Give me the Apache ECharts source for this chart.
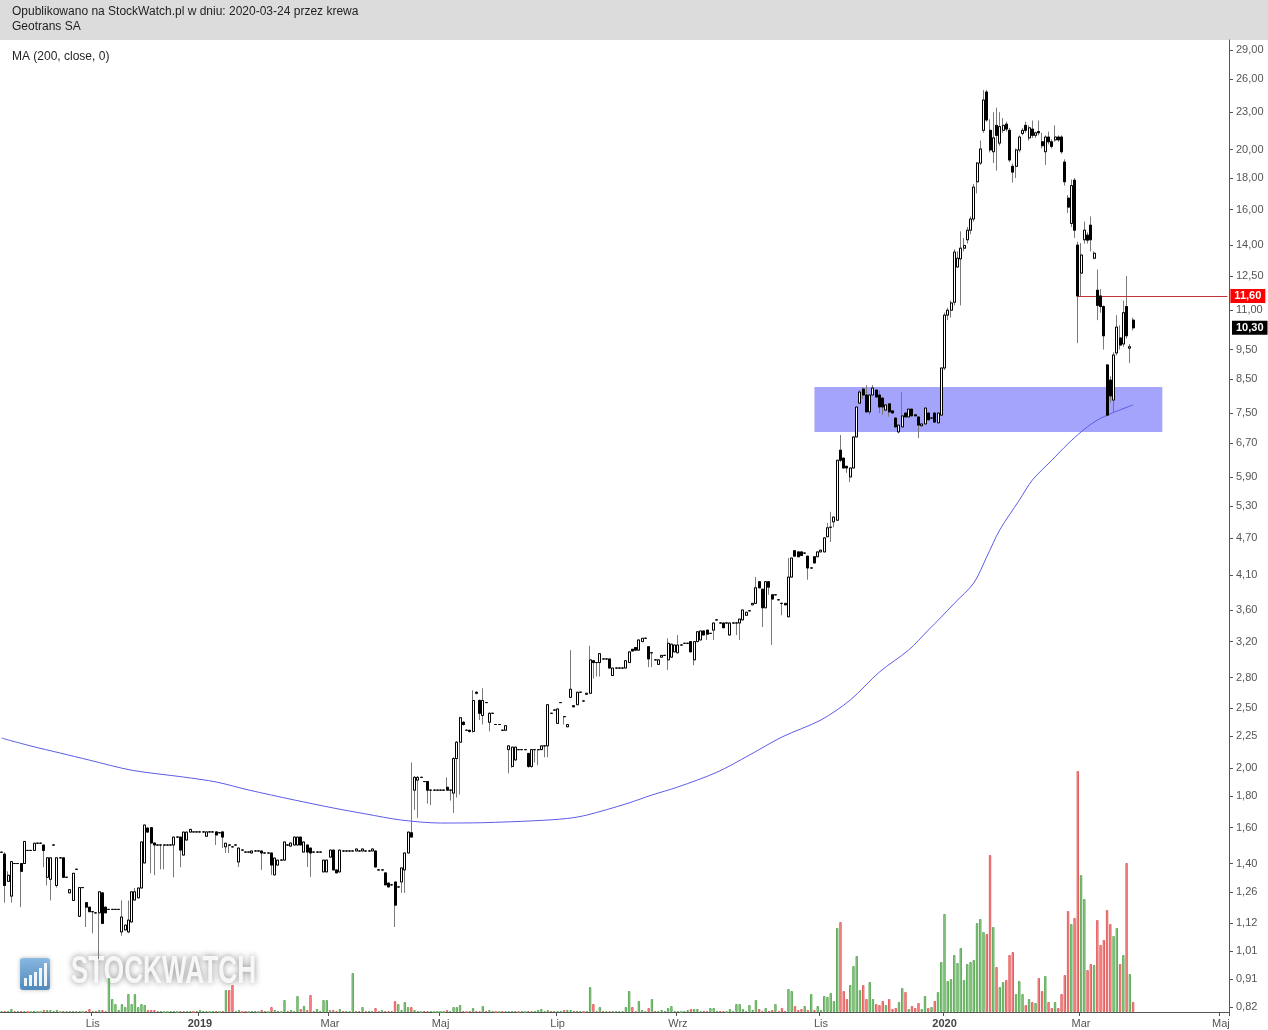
<!DOCTYPE html>
<html><head><meta charset="utf-8">
<script src="https://cdn.jsdelivr.net/npm/echarts@6/dist/echarts.min.js"></script>
<style>html,body{margin:0;padding:0;background:#fff}#c{width:1268px;height:1030px}</style>
</head><body><div id="c"></div>
<script>
// sessions per month (trading sessions shown on the chart, incl. future slots)
const monthSessions = [['2018-09',5],['2018-10',23],['2018-11',17],['2018-12',16],['2019-01',21],['2019-02',19],['2019-03',17],['2019-04',17],['2019-05',18],['2019-06',18],['2019-07',19],['2019-08',18],['2019-09',21],['2019-10',23],['2019-11',19],['2019-12',19],['2020-01',21],['2020-02',21],['2020-03',22],['2020-04',21],['2020-05',3]];
const monthNames = ['Sty','Lut','Mar','Kwi','Maj','Cze','Lip','Sie','Wrz','Paź','Lis','Gru'];
// [open, close, low, high]
const ohlc = [
[1.46,1.46,1.46,1.46],[1.45,1.29,1.21,1.46],[1.31,1.34,1.31,1.36],[1.24,1.41,1.21,1.41],[1.40,1.40,1.40,1.40],
[1.40,1.40,1.40,1.40],[1.40,1.36,1.19,1.40],[1.40,1.52,1.40,1.52],[1.47,1.47,1.47,1.47],[1.47,1.47,1.47,1.47],
[1.47,1.51,1.47,1.51],[1.51,1.51,1.51,1.51],[1.51,1.51,1.51,1.51],[1.50,1.47,1.38,1.50],[1.33,1.43,1.29,1.43],
[1.32,1.43,1.22,1.43],[1.50,1.50,1.50,1.50],[1.29,1.43,1.28,1.43],[1.43,1.43,1.43,1.43],[1.43,1.33,1.33,1.43],
[1.33,1.33,1.33,1.33],[1.255,1.27,1.255,1.27],[1.22,1.35,1.22,1.35],[1.37,1.37,1.37,1.37],[1.15,1.28,1.15,1.28],
[1.28,1.28,1.28,1.28],[1.21,1.19,1.105,1.21],[1.19,1.17,1.17,1.19],[1.17,1.17,1.08,1.17],[1.165,1.165,1.165,1.165],
[1.165,1.26,0.98,1.26],[1.255,1.12,1.12,1.255],[1.19,1.165,1.165,1.19],[1.18,1.18,1.18,1.18],[1.18,1.18,1.18,1.18],
[1.18,1.18,1.18,1.18],[1.18,1.18,1.18,1.18],[1.085,1.147,1.07,1.22],[1.093,1.113,1.093,1.113],[1.085,1.134,1.08,1.22],
[1.126,1.26,1.126,1.26],[1.222,1.26,1.222,1.278],[1.232,1.278,1.232,1.278],[1.278,1.517,1.278,1.517],[1.403,1.616,1.403,1.616],
[1.598,1.574,1.574,1.60],[1.60,1.511,1.35,1.60],[1.511,1.50,1.34,1.511],[1.50,1.50,1.50,1.50],[1.50,1.50,1.37,1.50],
[1.50,1.50,1.37,1.50],[1.50,1.50,1.50,1.50],[1.50,1.50,1.50,1.50],[1.50,1.545,1.33,1.545],[1.545,1.545,1.545,1.545],
[1.545,1.472,1.38,1.545],[1.445,1.574,1.445,1.574],[1.528,1.574,1.528,1.574],[1.574,1.59,1.574,1.59],[1.575,1.575,1.575,1.575],
[1.575,1.575,1.575,1.575],[1.575,1.575,1.575,1.575],[1.575,1.575,1.575,1.575],[1.55,1.575,1.55,1.575],[1.575,1.575,1.575,1.575],
[1.575,1.575,1.575,1.575],[1.575,1.557,1.50,1.575],[1.57,1.57,1.57,1.57],[1.575,1.545,1.483,1.575],[1.49,1.51,1.456,1.51],
[1.50,1.50,1.456,1.50],[1.49,1.49,1.49,1.49],[1.50,1.50,1.50,1.50],[1.408,1.483,1.382,1.483],[1.472,1.472,1.472,1.472],
[1.461,1.461,1.461,1.461],[1.461,1.461,1.461,1.461],[1.456,1.467,1.456,1.467],[1.467,1.467,1.467,1.467],[1.467,1.467,1.467,1.467],
[1.467,1.456,1.367,1.467],[1.456,1.456,1.456,1.456],[1.456,1.456,1.456,1.456],[1.456,1.392,1.342,1.456],[1.342,1.429,1.342,1.429],
[1.392,1.418,1.392,1.418],[1.418,1.418,1.418,1.418],[1.418,1.517,1.418,1.517],[1.50,1.50,1.50,1.50],[1.494,1.511,1.494,1.511],
[1.50,1.545,1.50,1.545],[1.50,1.545,1.50,1.545],[1.545,1.50,1.50,1.545],[1.461,1.517,1.461,1.517],[1.50,1.461,1.382,1.50],
[1.483,1.456,1.332,1.483],[1.461,1.461,1.461,1.461],[1.461,1.461,1.461,1.461],[1.461,1.461,1.461,1.461],[1.357,1.418,1.357,1.418],
[1.357,1.418,1.357,1.418],[1.434,1.472,1.434,1.472],[1.472,1.367,1.367,1.472],[1.367,1.352,1.352,1.367],[1.357,1.472,1.357,1.472],
[1.467,1.467,1.467,1.467],[1.467,1.467,1.467,1.467],[1.467,1.467,1.467,1.467],[1.467,1.467,1.467,1.467],[1.467,1.478,1.467,1.478],
[1.467,1.467,1.467,1.467],[1.467,1.478,1.467,1.478],[1.467,1.467,1.467,1.467],[1.467,1.467,1.467,1.467],[1.467,1.478,1.467,1.478],
[1.467,1.382,1.382,1.467],[1.367,1.367,1.367,1.367],[1.367,1.367,1.367,1.367],[1.352,1.293,1.293,1.352],[1.302,1.283,1.283,1.302],
[1.293,1.293,1.293,1.293],[1.307,1.199,1.105,1.307],[1.283,1.283,1.283,1.283],[1.307,1.377,1.255,1.377],[1.367,1.456,1.255,1.456],
[1.456,1.574,1.456,1.574],[1.57,1.545,1.545,2.04],
[1.84,1.93,1.71,1.94],[1.91,1.93,1.66,1.94],[1.93,1.93,1.93,1.93],[1.90,1.90,1.90,1.90],[1.90,1.84,1.75,1.90],
[1.84,1.84,1.74,1.84],[1.84,1.84,1.84,1.84],[1.84,1.84,1.84,1.84],[1.84,1.84,1.84,1.84],[1.84,1.84,1.84,1.84],
[1.86,1.84,1.84,1.93],[1.84,1.84,1.77,1.84],[1.82,2.07,1.69,2.08],[2.07,2.20,1.79,2.21],[2.20,2.41,1.81,2.42],
[2.37,2.35,2.34,2.38],[2.30,2.30,2.30,2.30],[2.30,2.29,2.28,2.30],[2.29,2.57,2.28,2.67],[2.65,2.64,2.63,2.66],
[2.57,2.45,2.39,2.58],[2.43,2.57,2.35,2.69],[2.55,2.55,2.55,2.55],[2.37,2.45,2.29,2.46],[2.45,2.45,2.45,2.45],
[2.35,2.35,2.35,2.35],[2.35,2.35,2.35,2.35],[2.30,2.30,2.30,2.30],[2.30,2.34,2.30,2.34],[2.14,2.17,1.96,2.17],
[2.01,2.16,2.00,2.16],[2.06,2.16,2.05,2.16],[2.14,2.14,2.14,2.14],[2.14,2.14,2.14,2.14],[2.14,2.14,2.14,2.14],
[2.11,2.01,2.00,2.11],[2.01,2.14,2.00,2.14],[2.14,2.14,2.04,2.14],[2.14,2.14,2.02,2.14],[2.14,2.17,2.14,2.17],
[2.17,2.17,2.08,2.17],[2.17,2.53,2.08,2.53],[2.45,2.45,2.45,2.45],[2.48,2.48,2.48,2.48],[2.36,2.49,2.36,2.49],
[2.55,2.55,2.55,2.55],[2.42,2.42,2.35,2.42],[2.33,2.35,2.33,2.35],[2.60,2.68,2.60,3.10],[2.52,2.51,2.51,2.52],
[2.53,2.65,2.53,2.65],[2.65,2.65,2.65,2.65],[2.565,2.565,2.565,2.565],[2.63,2.64,2.63,2.64],[2.64,2.99,2.64,3.15],
[2.98,2.96,2.79,2.98],[2.96,2.96,2.81,2.96],[2.96,3.06,2.81,3.06],[3.00,3.00,3.00,3.00],[3.00,3.00,3.00,3.00],
[3.00,2.90,2.90,3.00],[2.82,2.90,2.82,2.90],[2.90,2.90,2.90,2.90],[2.90,2.90,2.90,2.90],[2.90,2.90,2.90,2.90],
[2.90,2.98,2.90,2.98],[2.96,3.08,2.96,3.08],[3.11,3.09,3.09,3.11],[3.13,3.10,3.10,3.13],[3.10,3.22,3.10,3.22],
[3.20,3.24,3.20,3.24],[3.24,3.24,3.24,3.24],[3.14,3.00,2.91,3.14],[3.07,3.07,2.91,3.07],[2.99,2.99,2.99,2.99],
[2.94,2.99,2.94,2.99],[3.02,3.04,3.02,3.04],[3.04,3.04,3.04,3.04],[2.99,3.18,2.88,3.24],[3.02,3.17,3.02,3.17],
[3.08,3.16,3.08,3.16],[3.07,3.16,3.07,3.28],[3.16,3.16,3.16,3.16],[3.18,3.18,3.18,3.18],[3.18,3.18,3.18,3.18],
[3.20,3.08,3.08,3.20],[2.99,3.20,2.93,3.20],[3.20,3.32,3.20,3.32],[3.22,3.33,3.22,3.33],[3.33,3.28,3.28,3.33],
[3.34,3.29,3.22,3.34],[3.30,3.30,3.30,3.30],[3.34,3.43,3.22,3.43],[3.47,3.47,3.47,3.47],[3.43,3.43,3.43,3.43],
[3.43,3.37,3.37,3.43],[3.43,3.43,3.43,3.43],[3.28,3.43,3.28,3.43],[3.43,3.43,3.43,3.43],[3.43,3.43,3.28,3.43],
[3.43,3.48,3.22,3.48],[3.47,3.60,3.47,3.60],[3.53,3.57,3.53,3.57],[3.59,3.59,3.59,3.59],[3.67,3.69,3.67,3.69],
[3.69,3.91,3.69,4.07],[4.00,3.91,3.91,4.00],[3.89,3.63,3.38,3.89],[3.63,4.00,3.63,4.00],[4.00,3.92,3.81,4.00],
[3.81,3.75,3.16,3.81],[3.81,3.81,3.81,3.81],[3.74,3.74,3.74,3.74],[3.69,3.69,3.53,3.69],[3.69,3.67,3.67,3.69],
[3.51,4.07,3.51,4.37],[4.07,4.37,4.07,4.37],[4.49,4.40,4.40,4.49],[4.47,4.39,4.39,4.47],[4.47,4.41,4.41,4.47],
[4.45,4.45,4.45,4.45],[4.40,4.21,4.03,4.40],[4.21,4.21,4.21,4.21],[4.39,4.29,4.29,4.39],[4.39,4.47,4.39,4.47],
[4.47,4.50,4.47,4.50],[4.47,4.71,4.47,4.71],[4.73,4.89,4.73,4.98],[4.90,4.90,4.64,5.19],[5.00,5.09,4.90,5.09],
[5.03,6.29,5.03,6.29],[6.53,6.29,6.25,6.91],[6.34,6.11,6.11,6.34],[6.15,6.11,6.00,6.15],[5.91,6.11,5.80,6.11],
[6.11,6.86,6.11,6.86],[6.86,7.67,6.86,7.67],[7.78,8.11,7.78,8.17],[8.20,8.02,7.90,8.25],[8.02,7.53,7.53,8.32],
[7.53,8.02,7.45,8.02],[8.02,8.23,8.02,8.32],[8.17,7.96,7.96,8.17],[8.02,7.67,7.50,8.15],[7.93,7.67,7.45,7.93],
[7.58,7.73,7.58,7.73],[7.76,7.53,7.40,7.76],[7.56,7.50,7.50,7.56],[7.36,7.12,7.12,7.36],[6.99,7.17,6.95,7.17],
[7.12,7.42,7.12,8.11],[7.50,7.39,7.39,7.50],[7.39,7.61,7.39,7.61],[7.61,7.42,7.42,7.61],[7.45,7.42,7.42,7.45],
[7.39,7.17,6.83,7.39],[7.15,7.20,7.15,7.20],[7.20,7.64,7.20,7.64],[7.50,7.31,7.31,7.50],[7.36,7.36,7.36,7.36],
[7.50,7.25,7.25,7.50],[7.23,7.50,7.23,7.50],[7.44,8.87,7.44,8.87],
[8.87,10.8,8.8,10.9],[10.8,11.0,10.6,11.1],[11.0,11.3,10.7,11.4],[11.33,13.66,11.2,13.8],[12.92,13.35,12.9,13.7],
[13.32,13.86,11.2,14.76],[13.86,14.0,13.7,14.4],[14.3,14.82,14.1,15.0],[14.82,15.45,14.6,15.6],[15.45,17.4,15.3,17.6],
[17.75,19.03,17.0,19.1],[19.03,20.06,18.9,20.7],[21.5,24.07,21.3,24.97],[24.8,22.34,22.2,25.0],[21.5,19.98,19.8,22.4],
[19.85,20.9,19.03,23.0],[21.9,21.1,18.5,23.4],[20.5,21.8,20.3,23.0],[21.5,21.9,21.3,22.5],[22.0,21.6,21.4,22.2],
[21.5,19.25,19.1,21.7],[18.8,18.4,17.7,19.0],[18.8,19.98,18.0,20.1],[19.98,20.97,19.8,21.1],[21.25,21.5,21.1,21.7],
[21.9,21.5,21.3,22.2],[20.9,21.7,20.7,21.9],[21.6,21.1,20.9,22.3],[21.1,21.3,20.9,21.4],[21.4,21.3,21.1,22.3],
[20.6,20.3,20.1,21.3],[19.85,20.97,18.9,21.1],[20.97,20.6,20.4,21.4],[20.6,20.25,20.1,20.8],[20.75,20.97,20.6,21.9],
[20.97,20.75,20.6,21.1],[20.97,19.85,19.7,21.1],[19.1,17.75,17.5,19.3],[16.7,16.15,15.8,16.9],[15.2,17.5,15.0,17.9],
[17.85,14.82,14.4,18.0],[14.02,11.60,9.73,14.2],[12.63,13.51,11.55,14.13],[14.3,14.82,14.1,15.3],[14.55,14.28,14.1,14.7],
[15.1,14.3,13.7,15.6],[13.35,13.6,13.3,13.7],[11.85,11.2,10.6,12.8],[11.6,11.15,10.9,11.9],[11.15,10.0,9.5,11.2],
[8.97,7.44,7.4,9.0],[8.48,7.99,7.8,8.6],[7.87,9.31,7.5,9.4],[9.38,10.33,9.3,10.8],[9.92,9.66,9.5,10.4],
[9.7,10.9,9.6,11.4],[11.15,10.0,9.9,12.5],[9.55,9.6,9.03,9.7],[10.6,10.3,10.2,10.7]
];
// relative session volume
const volume = [
1,1,1,3,1,1,1,1,0,0, 1,0,0,2,2,2,1,2,0,1, 1,1,1,1,1,0,1,3,1,1, 2,2,1,34,13,8,2,8,5,18,
8,18,5,8,7,2,2,2,1,1, 0,0,1,1,0,1,1,1,1,0, 1,2,1,1,0,1,1,0,1,22, 22,27,1,2,0,1,0,1,1,0,
2,1,0,5,2,1,0,12,1,2, 1,16,3,6,2,17,1,3,1,12, 12,2,2,1,3,1,1,1,39,1, 1,5,1,1,1,4,1,2,1,1,
1,11,8,2,10,5,5,2,1,0, 1,1,1,0,0,0,0,2,1,5, 5,7,1,0,1,4,1,1,6,1, 2,1,0,0,1,1,1,1,1,0,
1,0,1,1,1,2,3,1,2,1, 1,1,1,2,2,2,1,1,1,0, 1,25,8,1,5,1,1,1,1,1, 1,1,5,21,5,1,11,2,1,4,
13,1,1,2,1,4,6,1,1,0, 1,2,3,3,3,1,1,1,4,4, 1,1,1,0,3,1,8,8,3,1, 7,2,12,3,1,4,1,2,8,1,
4,1,23,21,6,2,3,6,2,18, 2,6,2,16,15,19,11,84,90,21, 13,27,46,56,22,27,13,30,13,8, 7,11,7,13,3,4,10,24,20,3,
6,4,9,3,16,4,5,11,20,50, 98,31,33,57,49,64,32,48,50,52, 89,93,80,78,157,85,45,25,30,32, 57,60,18,31,18,7,13,10,9,34,
21,36,10,4,10,4,18,37,101,88, 94,241,137,113,42,48,47,92,67,72, 102,88,76,84,48,57,149,38,10
];
// MA(200, close) read at sampled sessions: [session index, value]
const ma200 = [[0,2.234],[9,2.169],[18,2.113],[27,2.058],[40,1.982],[56,1.932],[66,1.897],[76,1.841],[90,1.774],[102,1.722],[112,1.684],[123,1.646],[135,1.628],[148,1.630],[164,1.642],[174,1.656],[180,1.677],[192,1.748],[200,1.807],[208,1.862],[220,1.967],[230,2.097],[240,2.243],[252,2.390],[261,2.574],[270,2.858],[279,3.102],[285,3.34],[289,3.507],[293,3.69],[299,3.981],[303,4.39],[307,4.852],[313,5.42],[317,5.84],[323,6.29],[328,6.69],[332,6.99],[336,7.25],[340,7.44],[348,7.73]];
const priceTicks = [0.82,0.91,1.01,1.12,1.26,1.40,1.60,1.80,2.00,2.25,2.50,2.80,3.20,3.60,4.10,4.70,5.30,5.90,6.70,7.50,8.50,9.50,11.00,12.50,14.00,16.00,18.00,20.00,23.00,26.00,29.00];
const zone = {start: 250, end: 357, top: 8.26, bottom: 6.99};
const resistance = {start: 331, value: 11.60};
const lastClose = 10.30;

const categories = [];
const firstOfMonth = {};
monthSessions.forEach(([ym, n], mi) => {
  for (let k = 0; k < n; k++) {
    const key = ym + '-s' + (k + 1);
    if (k === 0 && mi > 0) firstOfMonth[key] = ym; // data starts mid-month in the first month
    categories.push(key);
  }
});
const lastIdx = categories.length - 1;
function isLabelled(val) {
  const ym = firstOfMonth[val];
  if (!ym) return false;
  return parseInt(ym.slice(5), 10) % 2 === 1;
}
const fmtPL = v => Number(v).toFixed(2).replace('.', ',');

const bodies = ohlc.map(([o, c]) => [o, c, Math.min(o, c), Math.max(o, c)]);
const volData = volume.map((v, i) => {
  const [o, c] = ohlc[i];
  let up;
  if (c > o) up = true; else if (c < o) up = false; else up = i === 0 || c >= ohlc[i - 1][1];
  return {value: v, itemStyle: up ? {color: '#a2d69e', borderColor: '#5eab58'} : {color: '#ff9d9d', borderColor: '#e35f5f'}};
});

const chart = echarts.init(document.getElementById('c'));
const FONT = '"Liberation Sans", Arial, sans-serif';
const tagLabel = (text, bg) => ({show: true, position: 'end', formatter: text, backgroundColor: bg, color: '#fff', fontSize: 11, fontWeight: 'bold', padding: [2, 4, 1, 4], distance: 3, fontFamily: FONT});
chart.setOption({
  animation: false,
  backgroundColor: '#ffffff',
  textStyle: {fontFamily: FONT},
  grid: [
    {left: 0, right: 39, top: 40, bottom: 18, containLabel: false, outerBoundsMode: 'none'},
    {left: 0, right: 39, top: 760, bottom: 18, containLabel: false, outerBoundsMode: 'none'}
  ],
  xAxis: [
    {type: 'category', gridIndex: 0, data: categories, boundaryGap: true,
     axisLine: {show: true, lineStyle: {color: '#555', width: 1}},
     axisTick: {show: true, length: 4, lineStyle: {color: '#555'}, interval: (i, v) => isLabelled(v)},
     axisLabel: {show: true, color: '#555', fontSize: 11, margin: 6, fontFamily: FONT,
       interval: (i, v) => isLabelled(v),
       formatter: v => {
         const ym = firstOfMonth[v]; if (!ym) return '';
         const m = parseInt(ym.slice(5), 10);
         return m === 1 ? '{y|' + ym.slice(0, 4) + '}' : monthNames[m - 1];
       },
       rich: {y: {fontWeight: 'bold', color: '#444', fontSize: 11, fontFamily: FONT}}},
     splitLine: {show: false}},
    {type: 'category', gridIndex: 1, data: categories, boundaryGap: true, show: false}
  ],
  yAxis: [
    {type: 'log', gridIndex: 0, position: 'right', min: 0.8052, max: 30.10, logBase: 10,
     axisLine: {show: true, lineStyle: {color: '#555', width: 1}},
     axisTick: {show: true, length: 4, lineStyle: {color: '#555'}, customValues: priceTicks},
     axisLabel: {show: true, color: '#555', fontSize: 11, margin: 7, fontFamily: FONT, customValues: priceTicks, formatter: v => fmtPL(v)},
     splitLine: {show: false}, minorTick: {show: false}},
    {type: 'value', gridIndex: 1, min: 0, max: 252, show: false, splitLine: {show: false}}
  ],
  series: [
    {type: 'line', name: 'zone', xAxisIndex: 0, yAxisIndex: 0, data: [], z: 1, silent: true,
     markArea: {silent: true, itemStyle: {color: 'rgba(90,90,250,0.55)'},
       data: [[{xAxis: zone.start, yAxis: zone.top}, {xAxis: zone.end, yAxis: zone.bottom}]]}},
    {type: 'bar', name: 'volume', xAxisIndex: 1, yAxisIndex: 1, data: volData, barWidth: 2.4, z: 2, silent: true,
     itemStyle: {borderWidth: 1}},
    {type: 'line', name: 'MA (200, close, 0)', xAxisIndex: 0, yAxisIndex: 0, data: ma200, smooth: 0.3,
     showSymbol: false, symbol: 'none', z: 3, silent: true, lineStyle: {color: '#5c5ce8', width: 1}},
    {type: 'candlestick', name: 'wicks', xAxisIndex: 0, yAxisIndex: 0, data: ohlc, barWidth: 2.5, z: 4, silent: true,
     itemStyle: {color: '#7a7a7a', color0: '#7a7a7a', borderColor: '#7a7a7a', borderColor0: '#7a7a7a', borderWidth: 1}},
    {type: 'candlestick', name: 'Geotrans SA', xAxisIndex: 0, yAxisIndex: 0, data: bodies, barWidth: 2.5, z: 5, silent: true,
     itemStyle: {color: '#ffffff', color0: '#000000', borderColor: '#000000', borderColor0: '#000000', borderWidth: 1},
     markLine: {silent: true, symbol: 'none', animation: false,
       data: [
         [{coord: [resistance.start, resistance.value], lineStyle: {color: '#c23434', width: 1, type: 'solid'},
           label: tagLabel(fmtPL(resistance.value), '#ff0000')},
          {coord: [lastIdx, resistance.value], lineStyle: {color: '#c23434', width: 1, type: 'solid'}}],
         {yAxis: lastClose, lineStyle: {color: 'rgba(0,0,0,0)', width: 1, type: 'solid'},
          label: tagLabel(fmtPL(lastClose), '#000000')}
       ]}}
  ],
  graphic: [
    {type: 'rect', shape: {x: 0, y: 0, width: 1268, height: 40}, style: {fill: '#dcdcdc'}, z: 0, silent: true},
    {type: 'text', x: 12, y: 6, style: {text: 'Opublikowano na StockWatch.pl w dniu: 2020-03-24 przez krewa', font: '12px ' + FONT, fill: '#1e1e1e'}, z: 1, silent: true},
    {type: 'text', x: 12, y: 21, style: {text: 'Geotrans SA', font: '12px ' + FONT, fill: '#1e1e1e'}, z: 1, silent: true},
    {type: 'text', x: 12, y: 51, style: {text: 'MA (200, close, 0)', font: '12px ' + FONT, fill: '#1e1e1e'}, z: 1, silent: true},
    {type: 'group', z: 0, silent: true, children: [
      {type: 'rect', shape: {x: 20, y: 958, width: 30, height: 32, r: 3},
       style: {fill: new echarts.graphic.LinearGradient(0, 0, 0, 1, [{offset: 0, color: '#7db6e6'}, {offset: 1, color: '#3d7db8'}]), opacity: 0.85, shadowBlur: 4, shadowColor: 'rgba(0,0,0,0.3)'}},
      {type: 'rect', shape: {x: 24, y: 978, width: 3, height: 8}, style: {fill: '#ffffff', opacity: 0.9}},
      {type: 'rect', shape: {x: 29, y: 975, width: 3, height: 11}, style: {fill: '#ffffff', opacity: 0.9}},
      {type: 'rect', shape: {x: 34, y: 972, width: 3, height: 14}, style: {fill: '#ffffff', opacity: 0.9}},
      {type: 'rect', shape: {x: 39, y: 968, width: 3, height: 18}, style: {fill: '#ffffff', opacity: 0.9}},
      {type: 'rect', shape: {x: 44, y: 963, width: 3, height: 23}, style: {fill: '#ffffff', opacity: 0.9}},
      {type: 'text', x: 54, y: 954, scaleX: 0.69, originX: 54, originY: 954,
       style: {text: 'STOCKWATCH', font: 'bold 38px ' + FONT, fill: '#fafafa', opacity: 0.95, textShadowBlur: 6, textShadowColor: 'rgba(0,0,0,0.5)'}}
    ]}
  ]
});
</script>
</body></html>
